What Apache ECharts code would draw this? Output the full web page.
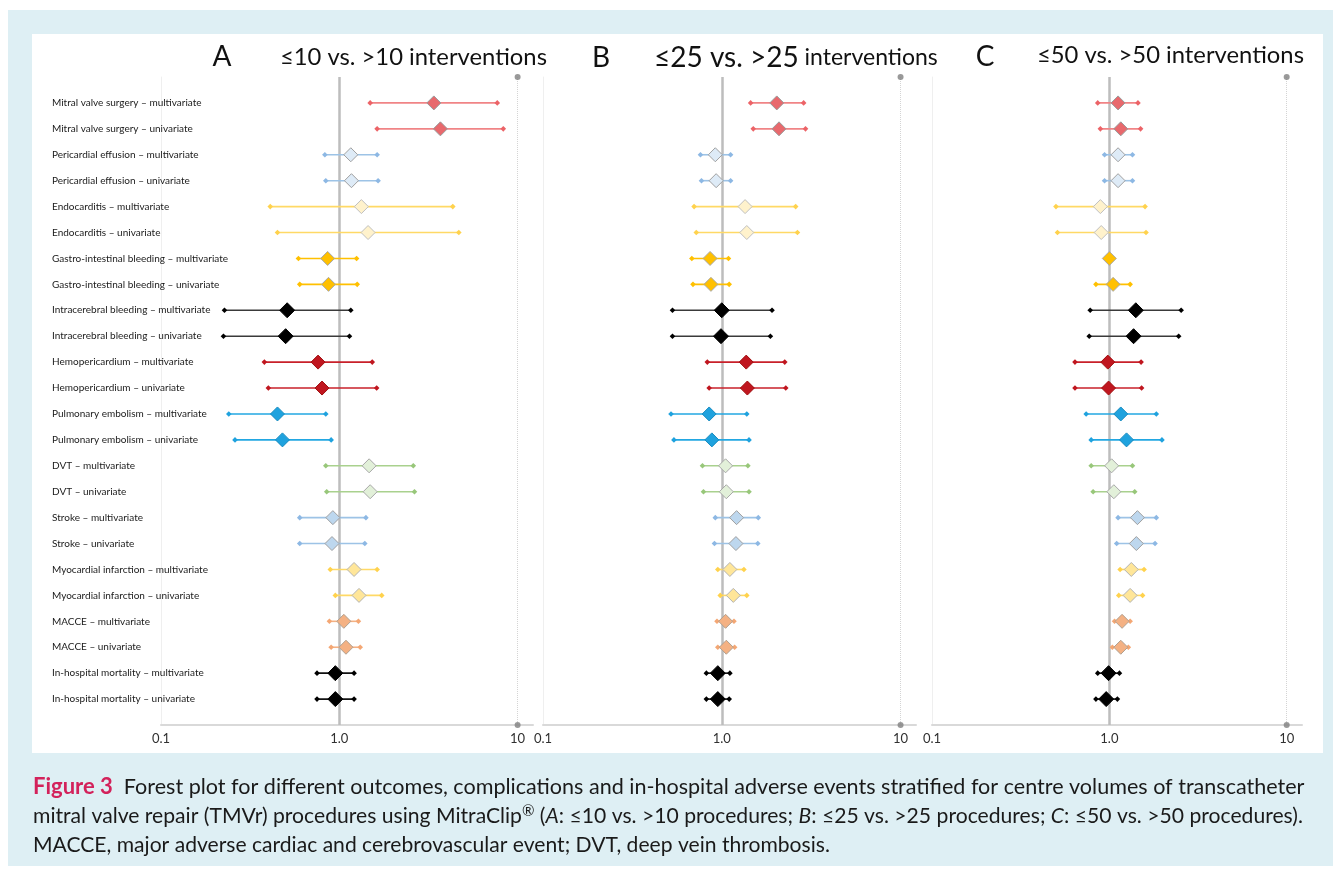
<!DOCTYPE html>
<html><head><meta charset="utf-8">
<script src="https://cdn.jsdelivr.net/npm/echarts@6/dist/echarts.min.js"></script>
<style>html,body{margin:0;padding:0;background:#fff}#c{width:1333px;height:873px}</style>
</head><body><div id="c"></div>
<script>
const labels = [
  'Mitral valve surgery – multivariate','Mitral valve surgery – univariate',
  'Pericardial effusion – multivariate','Pericardial effusion – univariate',
  'Endocarditis – multivariate','Endocarditis – univariate',
  'Gastro-intestinal bleeding – multivariate','Gastro-intestinal bleeding – univariate',
  'Intracerebral bleeding – multivariate','Intracerebral bleeding – univariate',
  'Hemopericardium – multivariate','Hemopericardium – univariate',
  'Pulmonary embolism – multivariate','Pulmonary embolism – univariate',
  'DVT – multivariate','DVT – univariate',
  'Stroke – multivariate','Stroke – univariate',
  'Myocardial infarction – multivariate','Myocardial infarction – univariate',
  'MACCE – multivariate','MACCE – univariate',
  'In-hospital mortality – multivariate','In-hospital mortality – univariate'
];
// Panel A: <=10 vs >10
const aLo  = [1.49,1.63,0.83,0.84,0.41,0.45,0.59,0.60,0.227,0.224,0.38,0.40,0.24,0.26,0.84,0.85,0.60,0.60,0.89,0.95,0.88,0.90,0.75,0.75];
const aEst = [3.39,3.69,1.16,1.17,1.33,1.45,0.86,0.87,0.51,0.50,0.76,0.80,0.45,0.48,1.47,1.49,0.92,0.91,1.21,1.29,1.06,1.09,0.95,0.95];
const aHi  = [7.69,8.31,1.63,1.65,4.33,4.68,1.25,1.26,1.16,1.14,1.53,1.62,0.84,0.90,2.60,2.64,1.41,1.39,1.63,1.73,1.28,1.31,1.21,1.21];
// Panel B: <=25 vs >25
const bLo  = [1.45,1.50,0.76,0.77,0.70,0.72,0.68,0.69,0.53,0.53,0.83,0.85,0.52,0.54,0.78,0.79,0.92,0.91,0.95,0.98,0.94,0.95,0.82,0.82];
const bEst = [2.03,2.09,0.92,0.93,1.35,1.38,0.86,0.87,1.00,0.99,1.37,1.39,0.85,0.88,1.05,1.06,1.21,1.20,1.11,1.16,1.05,1.06,0.95,0.95];
const bHi  = [2.87,2.94,1.12,1.12,2.59,2.65,1.09,1.10,1.91,1.87,2.25,2.28,1.38,1.42,1.40,1.42,1.60,1.59,1.33,1.38,1.17,1.18,1.11,1.10];
// Panel C: <=50 vs >50
const cLo  = [0.86,0.89,0.94,0.94,0.50,0.51,null,0.84,0.78,0.77,0.64,0.64,0.74,0.79,0.79,0.81,1.12,1.10,1.15,1.13,1.07,1.04,0.86,0.84];
const cEst = [1.12,1.16,1.12,1.12,0.89,0.90,1.00,1.05,1.41,1.37,0.98,0.99,1.16,1.25,1.03,1.06,1.44,1.42,1.33,1.31,1.18,1.16,0.99,0.96];
const cHi  = [1.45,1.50,1.35,1.35,1.59,1.61,null,1.31,2.54,2.46,1.51,1.52,1.84,1.98,1.35,1.39,1.84,1.81,1.57,1.54,1.31,1.28,1.14,1.11];
const tickLabels = {'0.1':'0.1','1':'1.0','10':'10'};

const lineColors   = ['#f08486','#9dc3e6','#ffd966','#ffc000','#3a3a3a','#c8202a','#22a7e2','#a9d18e','#9dc3e6','#ffd966','#f4b183','#111111'];
const endColors    = ['#ec6367','#8db8e4','#ffd24d','#ffc000','#000000','#c0161f','#1fa2de','#98c77a','#8db8e4','#ffd24d','#f4a774','#000000'];
const fillColors   = ['#e8696d','#deebf7','#fff2cc','#ffc000','#000000','#c0161f','#1fa2de','#e2f0d9','#bdd7ee','#ffe699','#f4b183','#000000'];
const borderColors = ['#9a9a9a','#a0a0a0','#c0c0c0','#a8a8a8','#000000','#a01010','#1a8cc0','#a8a8a8','#a0a0a0','#b4b4b4','#b0a090','#000000'];

function dia(x, y, r, fill, stroke, lw) {
  return {type:'polygon', shape:{points:[[x,y-r],[x+r,y],[x,y+r],[x-r,y]]}, style:{fill:fill, stroke:stroke, lineWidth:lw}};
}
function renderItem(params, api) {
  const est = api.value(0), row = api.value(1), lo = api.value(2), hi = api.value(3);
  const k = Math.floor(row / 2);
  const c = api.coord([est, row]);
  const ch = [];
  if (!isNaN(lo) && !isNaN(hi)) {
    const p1 = api.coord([lo, row]), p2 = api.coord([hi, row]);
    ch.push({type:'line', shape:{x1:p1[0],y1:p1[1],x2:p2[0],y2:p2[1]}, style:{stroke:lineColors[k], lineWidth:1.6}});
    ch.push(dia(p1[0], p1[1], 2.8, endColors[k], null, 0));
    ch.push(dia(p2[0], p2[1], 2.8, endColors[k], null, 0));
  }
  const big = (k === 4 || k === 11) ? 7.5 : 7;
  ch.push(dia(c[0], c[1], big, fillColors[k], borderColors[k], 1));
  return {type:'group', children:ch};
}
function mk(lo, est, hi) {
  return est.map((e, i) => [e, i, lo[i] == null ? '-' : lo[i], hi[i] == null ? '-' : hi[i]]);
}
const panels = [mk(aLo,aEst,aHi), mk(bLo,bEst,bHi), mk(cLo,cEst,cHi)];
const grids = [
  {left:161, top:77, width:372, height:648},
  {left:543, top:77, width:373, height:648},
  {left:932, top:77, width:370, height:648}
];
const FONT = 'Lato';
const xAxes = [], yAxes = [], series = [];
panels.forEach((data, i) => {
  xAxes.push({
    type:'log', logBase:10, min:0.1, max:12.2, gridIndex:i,
    axisLine:{show:true, onZero:false, lineStyle:{color:'#d9d9d9', width:2}},
    axisTick:{show:false}, splitLine:{show:false},
    axisLabel:{show:true, margin:7, fontSize:13, fontFamily:FONT, color:'#303030',
      formatter: v => { const key = String(+(+v).toPrecision(3)); return tickLabels[key] || ''; }}
  });
  yAxes.push({
    type:'value', min:-1, max:24, interval:1, inverse:true, gridIndex:i,
    axisLine:{show:true, onZero:false, lineStyle:{color:'#efefef', width:1}},
    axisTick:{show:false}, splitLine:{show:false},
    axisLabel:{show:i === 0, align:'left', margin:109, fontSize:10, fontFamily:FONT, color:'#1a1a1a',
      formatter: v => labels[v] || ''}
  });
  series.push({
    type:'custom', xAxisIndex:i, yAxisIndex:i, renderItem:renderItem, data:data,
    encode:{x:[0,2,3], y:1}, z:5, clip:false,
    markLine:{silent:true, symbol:'none', label:{show:false}, z:2,
      data:[
        {xAxis:1, lineStyle:{color:'#bdbdbd', width:2.5, type:'solid'}},
        {xAxis:10, lineStyle:{color:'#d4d4d4', width:1, type:'dotted'}}
      ]}
  });
  series.push({
    type:'scatter', xAxisIndex:i, yAxisIndex:i, data:[[10,-1],[10,24]], symbol:'circle', symbolSize:6,
    itemStyle:{color:'#808080'}, clip:false, z:3, silent:true
  });
});

const graphic = [
  {type:'rect', z:-10, shape:{x:8, y:10, width:1325, height:856}, style:{fill:'#deeff4'}},
  {type:'rect', z:-9, shape:{x:32, y:34, width:1291, height:719}, style:{fill:'#ffffff'}},
  {type:'text', x:222, y:57, style:{text:'A', font:'28px '+FONT, fill:'#111', align:'center', verticalAlign:'middle'}},
  {type:'text', x:280, y:57, style:{text:'≤10 vs. >10 interventions', font:'23.8px '+FONT, fill:'#111', align:'left', verticalAlign:'middle'}},
  {type:'text', x:601, y:58, style:{text:'B', font:'28px '+FONT, fill:'#111', align:'center', verticalAlign:'middle'}},
  {type:'text', x:654, y:58, style:{text:'{big|≤25 vs. >25}{sm| interventions}', align:'left', verticalAlign:'middle',
     rich:{big:{font:'28px '+FONT, fill:'#111'}, sm:{font:'23px '+FONT, fill:'#111'}}}},
  {type:'text', x:985, y:57, style:{text:'C', font:'28px '+FONT, fill:'#111', align:'center', verticalAlign:'middle'}},
  {type:'text', x:1037, y:55, style:{text:'≤50 vs. >50 interventions', font:'23.8px '+FONT, fill:'#111', align:'left', verticalAlign:'middle'}},
  {type:'text', x:33, y:787, style:{text:'{f|Figure 3}  Forest plot for different outcomes, complications and in-hospital adverse events stratified for centre volumes of transcatheter',
     align:'left', verticalAlign:'middle', font:'21.55px '+FONT, fill:'#1a1a1a',
     rich:{f:{font:'bold 22px '+FONT, fill:'#d3225b'}}}},
  {type:'text', x:33, y:816, style:{text:'mitral valve repair (TMVr) procedures using MitraClip{s|®} ({i|A}: ≤10 vs. >10 procedures; {i|B}: ≤25 vs. >25 procedures; {i|C}: ≤50 vs. >50 procedures).',
     align:'left', verticalAlign:'middle', font:'21.15px '+FONT, fill:'#1a1a1a',
     rich:{s:{font:'15px '+FONT, fill:'#1a1a1a', padding:[0,0,10,0]}, i:{font:'italic 21.15px '+FONT, fill:'#1a1a1a'}}}},
  {type:'text', x:33, y:845, style:{text:'MACCE, major adverse cardiac and cerebrovascular event; DVT, deep vein thrombosis.',
     align:'left', verticalAlign:'middle', font:'21.1px '+FONT, fill:'#1a1a1a'}}
];

const chart = echarts.init(document.getElementById('c'), null, {renderer:'canvas'});
chart.setOption({
  animation:false,
  backgroundColor:'#ffffff',
  grid:grids, xAxis:xAxes, yAxis:yAxes, series:series, graphic:graphic
});
</script>
</body></html>
